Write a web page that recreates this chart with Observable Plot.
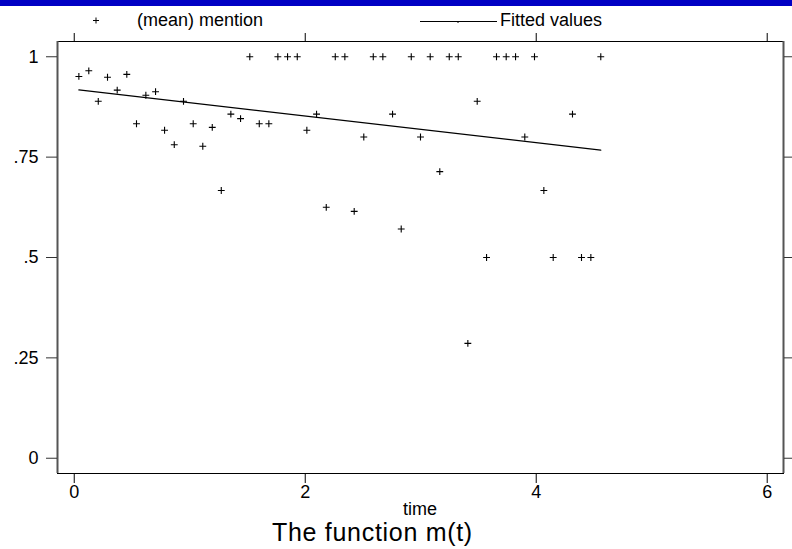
<!DOCTYPE html>
<html>
<head>
<meta charset="utf-8">
<script src="https://cdn.jsdelivr.net/npm/d3@7"></script>
<script src="https://cdn.jsdelivr.net/npm/@observablehq/plot@0.6"></script>
<style>
  html, body { margin: 0; padding: 0; background: #fff; }
  #wrap { position: relative; width: 792px; height: 549px; overflow: hidden;
          font-family: "Liberation Sans", Arial, Helvetica, sans-serif; color: #000; }
  #wrap svg { position: absolute; left: 0; top: 0; }
  .lbl { position: absolute; line-height: 1; white-space: nowrap; }
</style>
</head>
<body>
<div id="wrap">
  <div style="position:absolute;left:0;top:0;width:792px;height:6px;background:#0000c4;z-index:2"></div>
</div>
<script>
// ---- data ----
const time = [0.040, 0.126, 0.208, 0.288, 0.372, 0.455, 0.539, 0.620, 0.704, 0.782,
              0.866, 0.946, 1.030, 1.113, 1.195, 1.273, 1.356, 1.440, 1.520, 1.602,
              1.685, 1.763, 1.847, 1.931, 2.014, 2.098, 2.182, 2.260, 2.343, 2.424,
              2.507, 2.589, 2.672, 2.756, 2.831, 2.918, 2.998, 3.082, 3.165, 3.247,
              3.325, 3.408, 3.489, 3.570, 3.656, 3.740, 3.821, 3.901, 3.985, 4.066,
              4.147, 4.314, 4.392, 4.473, 4.559];
const mention = [0.951, 0.965, 0.889, 0.949, 0.917, 0.956, 0.833, 0.904, 0.913, 0.817,
                 0.781, 0.889, 0.833, 0.777, 0.824, 0.667, 0.857, 0.846, 1, 0.833,
                 0.833, 1, 1, 1, 0.817, 0.857, 0.625, 1, 1, 0.615,
                 0.8, 1, 1, 0.857, 0.571, 1, 0.8, 1, 0.714, 1,
                 1, 0.286, 0.889, 0.5, 1, 1, 1, 0.8, 1, 0.667,
                 0.5, 0.857, 0.5, 0.5, 1];
const xTicks = [0, 2, 4, 6];
const xTickLabels = ["0", "2", "4", "6"];
const yTicks = [0, 0.25, 0.5, 0.75, 1];
const yTickLabels = ["0", ".25", ".5", ".75", "1"];
const seriesNames = ["(mean) mention", "Fitted values"];
const xTitle = "time";
const chartTitle = "The function m(t)";

const data = time.map((t, i) => ({time: t, mention: mention[i]}));
const xDomain = [-0.145, 6.141];
const yDomain = [-0.038, 1.038];

const FONT = '"Liberation Sans", Arial, Helvetica, sans-serif';

const chart = Plot.plot({
  width: 792,
  height: 549,
  marginLeft: 57,
  marginRight: 9,
  marginTop: 41,
  marginBottom: 76,
  style: {fontFamily: FONT, fontSize: "18px", background: "transparent", color: "#000", overflow: "visible"},
  x: {domain: xDomain},
  y: {domain: yDomain},
  marks: [
    Plot.frame({stroke: "#000", strokeWidth: 1}),
    Plot.ruleX(xDomain, {stroke: "#555", strokeWidth: 2}),
    Plot.axisX({anchor: "bottom", ticks: xTicks, tickFormat: d => xTickLabels[xTicks.indexOf(d)],
                tickSize: 10, tickPadding: 2, label: null, fontSize: 18, stroke: "#000"}),
    Plot.axisX({anchor: "top", ticks: xTicks, tickFormat: () => "", tickSize: 9, label: null, stroke: "#000"}),
    Plot.axisY({anchor: "left", ticks: yTicks, tickFormat: d => yTickLabels[yTicks.indexOf(d)],
                tickSize: 11, tickPadding: 8, label: null, fontSize: 18, stroke: "#333"}),
    Plot.axisY({anchor: "right", ticks: yTicks, tickFormat: () => "", tickSize: 10, label: null, stroke: "#333"}),
    Plot.linearRegressionY(data, {x: "time", y: "mention", ci: 0, stroke: "#000", strokeWidth: 1.2}),
    Plot.dot(data, {x: "time", y: "mention", symbol: "plus", r: 2.35, stroke: "#000", strokeWidth: 1.1})
  ]
});

const wrap = document.getElementById("wrap");
wrap.appendChild(chart);

function addLabel(text, left, top, size, extra) {
  const d = document.createElement("div");
  d.className = "lbl";
  d.textContent = text;
  d.style.left = left + "px";
  d.style.top = top + "px";
  d.style.fontSize = size + "px";
  if (extra) Object.assign(d.style, extra);
  wrap.appendChild(d);
  return d;
}

// legend
const ns = "http://www.w3.org/2000/svg";
const leg = document.createElementNS(ns, "svg");
leg.setAttribute("width", 792); leg.setAttribute("height", 40);
leg.style.position = "absolute"; leg.style.left = "0px"; leg.style.top = "0px";
leg.innerHTML =
  '<path d="M93,20.5h6M96,17.5v6" stroke="#000" stroke-width="1" fill="none"/>' +
  '<path d="M420,21.5H497" stroke="#000" stroke-width="1" fill="none"/>' +
  '<path d="M458,21.5v1.5" stroke="#000" stroke-width="1" fill="none"/>';
wrap.appendChild(leg);
addLabel(seriesNames[0], 137, 11, 18);
addLabel(seriesNames[1], 500, 11, 18);

// axis title and chart title
addLabel(xTitle, 420, 500, 18, {transform: "translateX(-50%)", lineHeight: "18px"});
addLabel(chartTitle, 272, 520, 25, {letterSpacing: "0.7px"});
</script>
</body>
</html>
